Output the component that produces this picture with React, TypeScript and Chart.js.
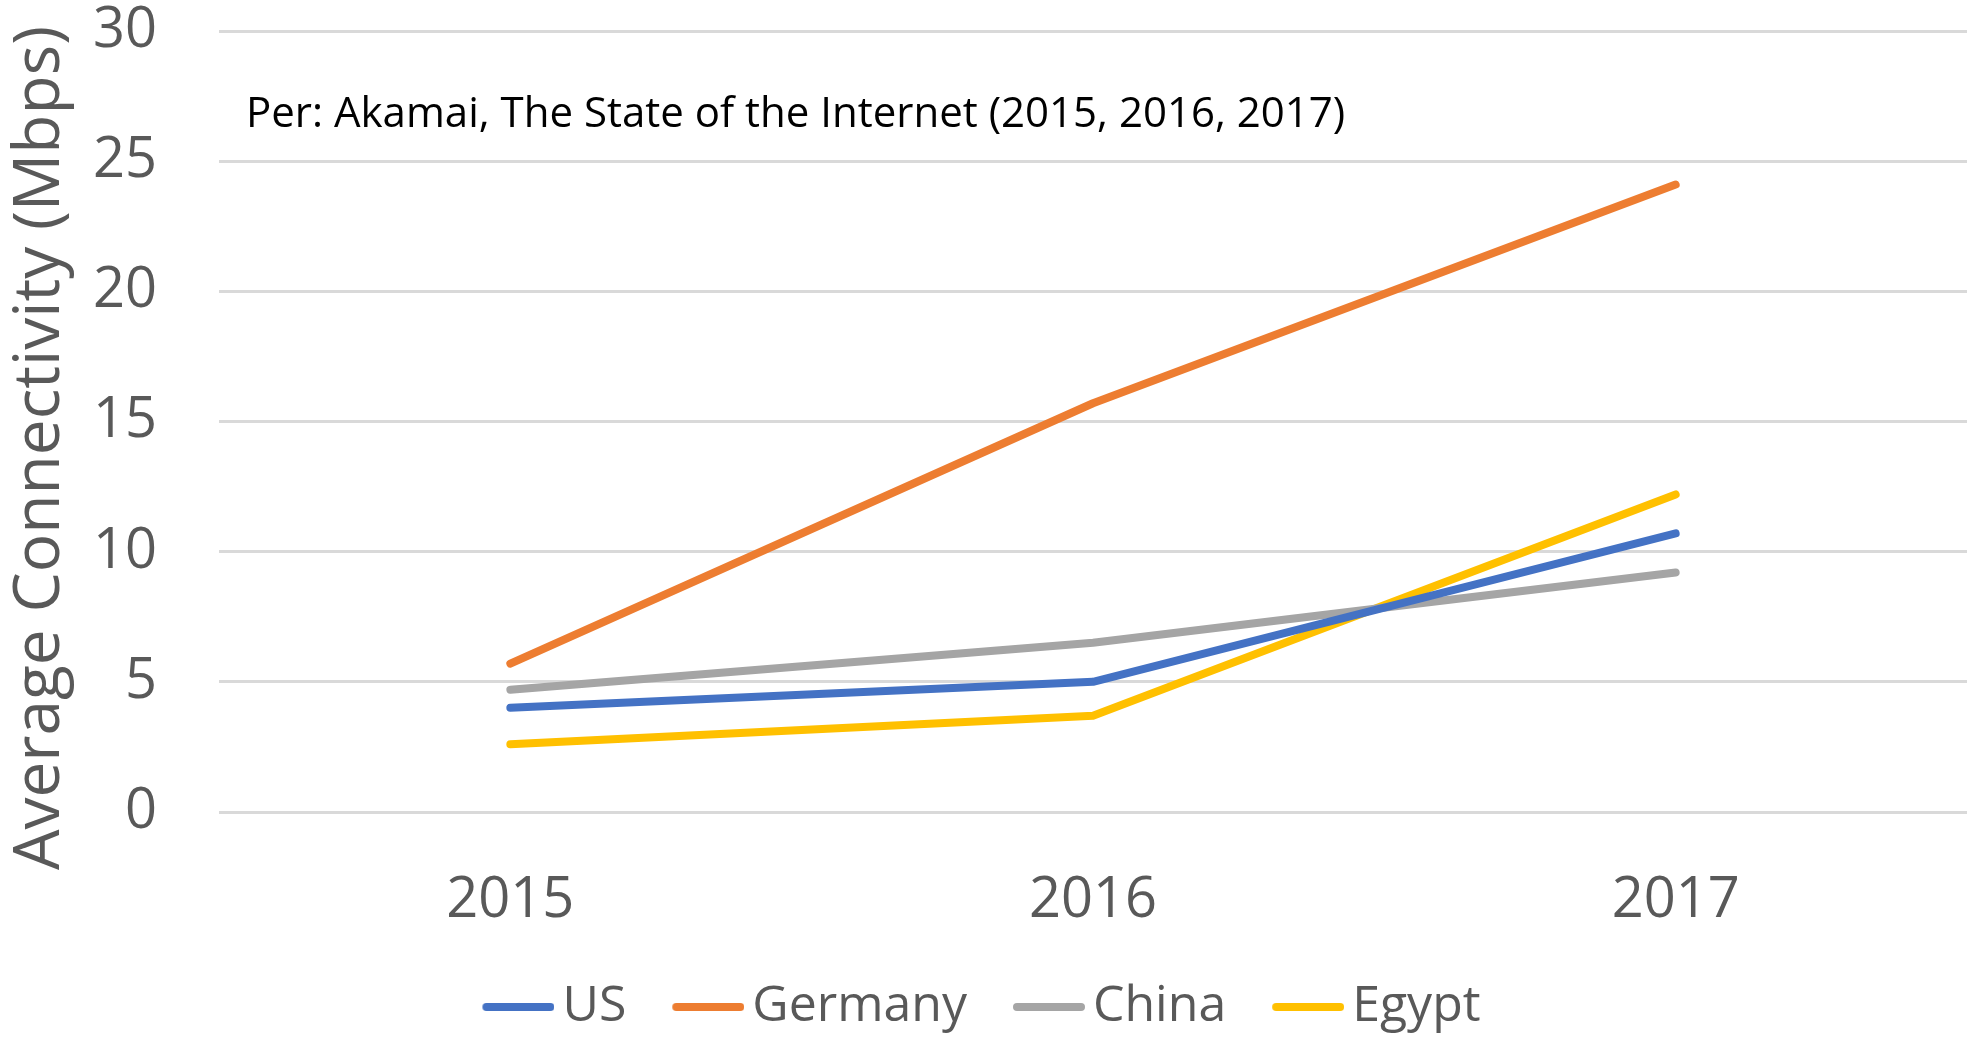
import React, { useEffect, useRef } from "react";
import { Chart, registerables } from "chart.js";

Chart.register(...registerables);

const categories = ["2015", "2016", "2017"];
const usValues = [4.0, 5.0, 10.7];
const germanyValues = [5.7, 15.7, 24.1];
const chinaValues = [4.7, 6.5, 9.2];
const egyptValues = [2.6, 3.7, 12.2];
const yTicks = [0, 5, 10, 15, 20, 25, 30];
const yTitle = "Average Connectivity (Mbps)";
const note = "Per: Akamai, The State of the Internet (2015, 2016, 2017)";

const FONT = "'Open Sans', sans-serif";
const LEGEND_FONT = 50;
const LEGEND_BOX = 51;
const LEGEND_PAD = 50;

function makeMarker(color: string): HTMLCanvasElement {
  const c = document.createElement("canvas");
  c.width = LEGEND_BOX + 34;
  c.height = 12;
  const ctx = c.getContext("2d")!;
  ctx.strokeStyle = color;
  ctx.lineWidth = 8;
  ctx.lineCap = "round";
  ctx.beginPath();
  ctx.moveTo(c.width - 72 + 4, 6);
  ctx.lineTo(c.width - 4, 6);
  ctx.stroke();
  return c;
}

const textPlugin = {
  id: "extraText",
  afterDraw(chart: any) {
    const ctx = chart.ctx;
    ctx.save();
    ctx.fillStyle = "#595959";
    ctx.font = `64px ${FONT}`;
    ctx.textAlign = "center";
    ctx.textBaseline = "alphabetic";
    ctx.translate(59, 448);
    ctx.rotate(-Math.PI / 2);
    ctx.fillText(yTitle, 0, 0);
    ctx.restore();

    ctx.save();
    ctx.fillStyle = "#000000";
    ctx.font = `42px ${FONT}`;
    ctx.textAlign = "left";
    ctx.textBaseline = "alphabetic";
    ctx.fillText(note, 246, 127);
    ctx.restore();
  },
};

export default function App() {
  const ref = useRef<HTMLCanvasElement>(null);
  useEffect(() => {
    document.body.style.margin = "0";
    const canvas = ref.current!;
    const mk = (label: string, data: number[], color: string) => ({
      label,
      data,
      borderColor: color,
      backgroundColor: color,
      borderWidth: 8,
      borderCapStyle: "round" as const,
      borderJoinStyle: "round" as const,
      pointRadius: 0,
      pointHoverRadius: 0,
      tension: 0,
    });
    const chart = new Chart(canvas, {
      type: "line",
      data: {
        labels: categories,
        datasets: [
          mk("US", usValues, "#4472C4"),
          mk("Germany", germanyValues, "#ED7D31"),
          mk("China", chinaValues, "#A5A5A5"),
          mk("Egypt", egyptValues, "#FFC000"),
        ],
      },
      plugins: [textPlugin],
      options: {
        responsive: false,
        animation: false,
        layout: { padding: { top: 31, left: 0, right: 0, bottom: -4 } },
        plugins: {
          tooltip: { enabled: false },
          legend: {
            position: "bottom",
            labels: {
              color: "#595959",
              font: { family: FONT, size: LEGEND_FONT },
              usePointStyle: true,
              pointStyleWidth: LEGEND_BOX,
              boxHeight: 12,
              padding: LEGEND_PAD,
              generateLabels: (c: any) =>
                c.data.datasets.map((d: any, i: number) => ({
                  text: d.label,
                  fillStyle: d.borderColor,
                  strokeStyle: d.borderColor,
                  lineWidth: 0,
                  hidden: false,
                  datasetIndex: i,
                  fontColor: "#595959",
                  pointStyle: makeMarker(d.borderColor),
                  rotation: 0,
                })),
            },
          },
        },
        scales: {
          x: {
            offset: true,
            grid: { display: false, drawTicks: false },
            border: { display: false },
            ticks: {
              color: "#595959",
              font: { family: FONT, size: 56, lineHeight: 1 },
              padding: 61,
              maxRotation: 0,
            },
            afterFit: (scale: any) => {
              const lh = scale.chart.legend ? scale.chart.legend.height : 0;
              scale.height = 1038 + 4 - 812 - lh;
              scale.paddingLeft = 0;
              scale.paddingRight = 0;
            },
          },
          y: {
            min: 0,
            max: 30,
            afterBuildTicks: (scale: any) => {
              scale.ticks = yTicks.map((v) => ({ value: v }));
            },
            grid: { color: "#D9D9D9", lineWidth: 3, drawTicks: false },
            border: { display: false },
            ticks: {
              color: "#595959",
              font: { family: FONT, size: 56, lineHeight: 1 },
              padding: 62,
            },
            afterFit: (scale: any) => {
              scale.width = 219;
              scale.paddingTop = 0;
              scale.paddingBottom = 0;
            },
          },
        },
      },
    });
    return () => chart.destroy();
  }, []);
  return <canvas ref={ref} width={1967} height={1038} style={{ display: "block" }} />;
}
